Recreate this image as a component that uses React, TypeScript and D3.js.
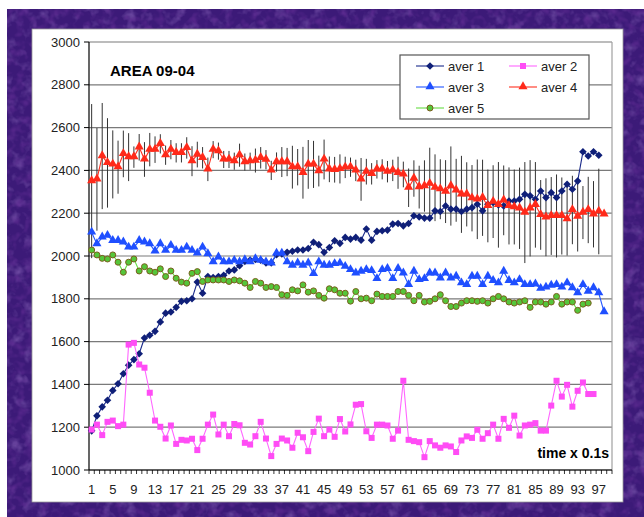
import React from "react";
import * as d3 from "d3";

const categories: number[] = d3.range(1, 100);
const tickLabels: number[] = [1, 5, 9, 13, 17, 21, 25, 29, 33, 37, 41, 45, 49, 53, 57, 61, 65, 69, 73, 77, 81, 85, 89, 93, 97];
const yTicks: number[] = [1000, 1200, 1400, 1600, 1800, 2000, 2200, 2400, 2600, 2800, 3000];

const aver1: number[] = [1183, 1253, 1295, 1326, 1372, 1403, 1450, 1490, 1516, 1543, 1617, 1630, 1648, 1692, 1733, 1738, 1760, 1788, 1791, 1800,
  1878, 1826, 1904, 1899, 1904, 1910, 1930, 1935, 1955, 1975, 1981, 1984, 1980, 1968, 1968, 2006, 2010, 2017, 2022, 2028,
  2028, 2035, 2064, 2053, 2017, 2040, 2071, 2059, 2087, 2079, 2087, 2074, 2126, 2074, 2115, 2118, 2121, 2149, 2152, 2141,
  2152, 2188, 2183, 2177, 2177, 2211, 2208, 2234, 2219, 2219, 2208, 2219, 2226, 2242, 2211, 2242, 2250, 2239, 2234, 2257,
  2257, 2265, 2288, 2281, 2265, 2304, 2273, 2296, 2273, 2304, 2335, 2312, 2350, 2487, 2467, 2487, 2471];

const aver2: number[] = [1189, 1212, 1163, 1225, 1231, 1205, 1212, 1586, 1594, 1493, 1478, 1361, 1231, 1202, 1147, 1208, 1122, 1141, 1138, 1146,
  1093, 1146, 1212, 1259, 1166, 1212, 1158, 1215, 1209, 1127, 1119, 1158, 1225, 1147, 1065, 1122, 1147, 1138, 1104, 1174,
  1153, 1088, 1178, 1240, 1158, 1189, 1155, 1238, 1180, 1213, 1305, 1308, 1181, 1150, 1212, 1212, 1208, 1146, 1184, 1417,
  1141, 1135, 1130, 1060, 1135, 1115, 1104, 1115, 1110, 1084, 1138, 1157, 1150, 1188, 1146, 1172, 1212, 1146, 1239, 1197,
  1254, 1161, 1208, 1212, 1219, 1184, 1184, 1301, 1417, 1343, 1398, 1296, 1370, 1409, 1355, 1355];

const aver3: number[] = [2110, 2056, 2087, 2095, 2071, 2071, 2064, 2040, 2040, 2071, 2064, 2056, 2022, 2056, 2025, 2048, 2025, 2025, 2040, 2025,
  2012, 2040, 2009, 1971, 1994, 1971, 1971, 1978, 1971, 1981, 1971, 1986, 1978, 1971, 1966, 2012, 2012, 1971, 1955, 1966,
  1955, 1966, 1916, 1971, 1955, 1955, 1963, 1965, 1950, 1935, 1919, 1927, 1935, 1930, 1893, 1935, 1940, 1893, 1940, 1919,
  1865, 1927, 1888, 1893, 1919, 1919, 1896, 1919, 1896, 1904, 1873, 1865, 1904, 1904, 1865, 1904, 1884, 1873, 1927, 1884,
  1873, 1888, 1865, 1865, 1868, 1847, 1853, 1862, 1865, 1853, 1873, 1850, 1826, 1865, 1834, 1850, 1826, 1738];

const aver4: number[] = [2350, 2358, 2467, 2435, 2428, 2415, 2477, 2462, 2462, 2508, 2451, 2497, 2497, 2524, 2471, 2497, 2482, 2482, 2505, 2443,
  2474, 2459, 2405, 2497, 2490, 2451, 2451, 2443, 2471, 2439, 2443, 2446, 2459, 2450, 2400, 2439, 2439, 2439, 2415, 2415,
  2389, 2428, 2428, 2397, 2451, 2405, 2403, 2407, 2414, 2415, 2400, 2358, 2394, 2384, 2405, 2405, 2394, 2400, 2389, 2381,
  2319, 2362, 2322, 2327, 2338, 2319, 2312, 2301, 2327, 2307, 2288, 2288, 2270, 2265, 2272, 2234, 2254, 2239, 2260, 2234,
  2229, 2223, 2203, 2223, 2239, 2192, 2181, 2187, 2187, 2187, 2172, 2215, 2184, 2203, 2215, 2195, 2208, 2195];

const aver4Err: number[] = [360, 240, 248, 209, 159, 124, 109, 112, 50, 62, 81, 78, 62, 45, 45, 45, 45, 45, 50, 70,
  60, 50, 55, 40, 40, 40, 40, 40, 54, 40, 40, 56, 50, 45, 45, 45, 70, 66, 100, 85,
  121, 114, 110, 72, 93, 60, 60, 68, 50, 45, 50, 100, 60, 50, 43, 47, 50, 50, 75, 60,
  90, 85, 100, 120, 168, 156, 140, 147, 185, 147, 180, 150, 155, 186, 178, 170, 170, 200, 163, 180,
  175, 190, 236, 225, 200, 163, 182, 182, 194, 180, 170, 160, 163, 124, 155, 155, 200, 0];

const aver5: number[] = [2028, 2005, 1989, 1986, 2005, 1971, 1924, 1971, 1986, 1930, 1950, 1930, 1924, 1940, 1904, 1930, 1896, 1878, 1873, 1919,
  1927, 1881, 1888, 1888, 1888, 1888, 1881, 1888, 1884, 1873, 1853, 1881, 1873, 1853, 1857, 1853, 1819, 1816, 1842, 1837,
  1865, 1831, 1837, 1816, 1803, 1847, 1842, 1826, 1826, 1789, 1834, 1800, 1803, 1791, 1822, 1811, 1811, 1811, 1834, 1834,
  1816, 1791, 1816, 1785, 1788, 1800, 1819, 1791, 1764, 1764, 1780, 1791, 1791, 1788, 1791, 1780, 1800, 1811, 1800, 1785,
  1780, 1785, 1791, 1760, 1785, 1785, 1775, 1785, 1811, 1775, 1785, 1785, 1746, 1775, 1780];

const seriesNames: string[] = ["aver 1", "aver 2", "aver 3", "aver 4", "aver 5"];

type Marker = "diamond" | "square" | "triangle" | "circle";
interface Series { name: string; values: number[]; color: string; fill: string; stroke: string; marker: Marker; }

const series: Series[] = [
  { name: seriesNames[0], values: aver1, color: "#1a2a8a", fill: "#0f1f78", stroke: "#0f1f78", marker: "diamond" },
  { name: seriesNames[1], values: aver2, color: "#ff66ff", fill: "#ff4cf5", stroke: "#ff4cf5", marker: "square" },
  { name: seriesNames[2], values: aver3, color: "#2255ff", fill: "#1f4fff", stroke: "#1f4fff", marker: "triangle" },
  { name: seriesNames[3], values: aver4, color: "#ff3020", fill: "#ff2a1a", stroke: "#ff2a1a", marker: "triangle" },
  { name: seriesNames[4], values: aver5, color: "#66dd44", fill: "#55c63a", stroke: "#7a5e1e", marker: "circle" },
];

const W = 644, H = 517;
const PL = 89, PR = 612, PT = 42, PB = 470;

const x = d3.scaleBand<number>().domain(categories).range([PL, PR]).padding(0);
const y = d3.scaleLinear().domain([1000, 3000]).range([PB, PT]);
const cx = (k: number) => (x(k) as number) + x.bandwidth() / 2;

function MarkerShape({ m, px, py, fill, stroke }: { m: Marker; px: number; py: number; fill: string; stroke: string }) {
  if (m === "diamond") {
    const r = 3.8;
    return <path d={`M${px},${py - r}L${px + r},${py}L${px},${py + r}L${px - r},${py}Z`} fill={fill} />;
  }
  if (m === "square") {
    return <rect x={px - 3} y={py - 3} width={6} height={6} fill={fill} />;
  }
  if (m === "triangle") {
    const p = d3.symbol().type(d3.symbolTriangle).size(36)();
    return <path d={p as string} transform={`translate(${px},${py - 0.5})`} fill={fill} />;
  }
  return <circle cx={px} cy={py} r={3} fill={fill} stroke={stroke} strokeWidth={1} />;
}

export default function App() {
  const line = d3.line<number>().x((_, i) => cx(categories[i])).y((v) => y(v));
  const legendItems = [
    { s: series[0], lx: 416, ly: 66 },
    { s: series[1], lx: 509, ly: 66 },
    { s: series[2], lx: 416, ly: 87 },
    { s: series[3], lx: 509, ly: 87 },
    { s: series[4], lx: 416, ly: 108 },
  ];
  const font = "'Liberation Sans', Arial, sans-serif";
  return (
    <svg width={W} height={H} style={{ position: "absolute", left: 0, top: 0 }} fontFamily={font}>
      <defs>
        <filter id="tex" x="0" y="0" width="100%" height="100%">
          <feTurbulence type="fractalNoise" baseFrequency="0.08" numOctaves={3} seed={7} result="n" />
          <feColorMatrix in="n" type="matrix"
            values="0 0 0 0 0.36  0 0 0 0 0.20  0 0 0 0 0.62  1.2 0 0 0 -0.6" />
        </filter>
        <filter id="tex2" x="0" y="0" width="100%" height="100%">
          <feTurbulence type="fractalNoise" baseFrequency="0.12" numOctaves={2} seed={3} result="n" />
          <feColorMatrix in="n" type="matrix"
            values="0 0 0 0 0.14  0 0 0 0 0.03  0 0 0 0 0.32  0 1.5 0 0 -0.7" />
        </filter>
      </defs>
      <rect x={0} y={0} width={W} height={H} fill="#ffffff" />
      <rect x={7} y={9} width={W - 7} height={H - 9} fill="#3c1a78" />
      <rect x={7} y={9} width={W - 7} height={H - 9} filter="url(#tex)" />
      <rect x={7} y={9} width={W - 7} height={H - 9} filter="url(#tex2)" />
      <rect x={32} y={29} width={591} height={473} fill="#ffffff" stroke="#9a9a9a" strokeWidth={0.8} />

      {/* grid */}
      {yTicks.map((t) => (
        <line key={t} x1={PL} x2={PR} y1={y(t)} y2={y(t)} stroke="#7a7a7a" strokeWidth={1.2} />
      ))}
      <line x1={PR} x2={PR} y1={PT} y2={PB} stroke="#a0a0a0" strokeWidth={1.2} />

      {/* y axis */}
      <line x1={PL} x2={PL} y1={PT} y2={PB} stroke="#000" strokeWidth={1.2} />
      {yTicks.map((t) => (
        <g key={t}>
          <line x1={PL - 5} x2={PL} y1={y(t)} y2={y(t)} stroke="#000" />
          <text x={PL - 9} y={y(t) + 4.5} textAnchor="end" fontSize={13} fill="#222">{t}</text>
        </g>
      ))}

      {/* x axis */}
      <line x1={PL} x2={PR} y1={PB} y2={PB} stroke="#000" strokeWidth={1.2} />
      {categories.map((k) => (
        <line key={k} x1={x(k) as number} x2={x(k) as number} y1={PB} y2={PB + 4} stroke="#000" strokeWidth={0.8} />
      ))}
      <line x1={PR} x2={PR} y1={PB} y2={PB + 4} stroke="#000" strokeWidth={0.8} />
      {tickLabels.map((k) => (
        <text key={k} x={cx(k)} y={494} textAnchor="middle" fontSize={13} fill="#222">{k}</text>
      ))}

      {/* error bars on aver 4 */}
      {aver4.map((v, i) => aver4Err[i] > 0 ? (
        <line key={i} x1={cx(categories[i])} x2={cx(categories[i])} y1={y(v + aver4Err[i])} y2={y(v - aver4Err[i])}
          stroke="#333" strokeWidth={1} />
      ) : null)}

      {/* series */}
      {series.map((s) => (
        <g key={s.name}>
          <path d={line(s.values) as string} fill="none" stroke={s.color} strokeWidth={1.1} />
          {s.values.map((v, i) => (
            <MarkerShape key={i} m={s.marker} px={cx(categories[i])} py={y(v)} fill={s.fill} stroke={s.stroke} />
          ))}
        </g>
      ))}

      {/* title */}
      <text x={110} y={76} fontSize={15} fontWeight="bold" fill="#000">AREA 09-04</text>
      <text x={609} y={458} fontSize={14} fontWeight="bold" textAnchor="end" fill="#000">time x 0.1s</text>

      {/* legend */}
      <rect x={400} y={55} width={189} height={64} fill="#fff" stroke="#555" strokeWidth={1.2} />
      {legendItems.map(({ s, lx, ly }) => (
        <g key={s.name}>
          <line x1={lx} x2={lx + 28} y1={ly} y2={ly} stroke={s.color} strokeWidth={1.1} />
          <MarkerShape m={s.marker} px={lx + 14} py={ly} fill={s.fill} stroke={s.stroke} />
          <text x={lx + 32} y={ly + 4.5} fontSize={13} fill="#222">{s.name}</text>
        </g>
      ))}
    </svg>
  );
}
